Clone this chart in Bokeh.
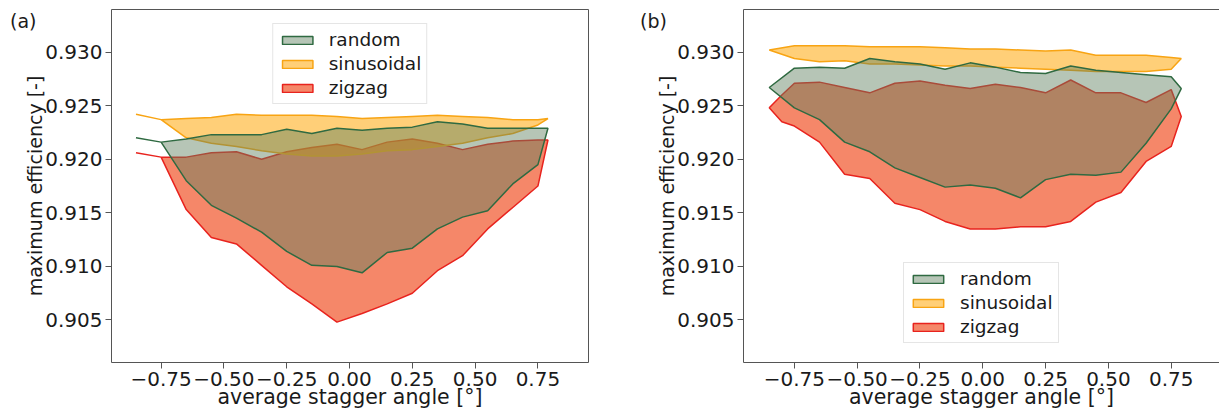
from bokeh.plotting import figure
from bokeh.models import Legend, LegendItem, FixedTicker, LinearAxis, Range1d, Div
from bokeh.layouts import row, column
from bokeh.embed import file_html
from bokeh.resources import INLINE

# ---------------- data ----------------
x_ticks = [-0.75, -0.50, -0.25, 0.00, 0.25, 0.50, 0.75]
x_tick_labels = ["\u22120.75", "\u22120.50", "\u22120.25", "0.00", "0.25", "0.50", "0.75"]
y_ticks = [0.905, 0.910, 0.915, 0.920, 0.925, 0.930]
y_tick_labels = ["0.905", "0.910", "0.915", "0.920", "0.925", "0.930"]

series_names = ["random", "sinusoidal", "zigzag"]

x_grid = [-0.85, -0.75, -0.65, -0.55, -0.45, -0.35, -0.25, -0.15, -0.05,
          0.05, 0.15, 0.25, 0.35, 0.45, 0.55, 0.65, 0.75, 0.79]
x_grid_zig_b = [-0.85, -0.80, -0.75, -0.65, -0.55, -0.45, -0.35, -0.25, -0.15, -0.05,
                0.05, 0.15, 0.25, 0.35, 0.45, 0.55, 0.65, 0.75, 0.79]

# panel (a)
random_a_upper = [0.9220, 0.9216, 0.9219, 0.9223, 0.9223, 0.9223, 0.9228, 0.9224, 0.9229,
                  0.9227, 0.9229, 0.9230, 0.9235, 0.9233, 0.9229, 0.9229, 0.9229, 0.9229]
random_a_lower = [0.9220, 0.9216, 0.9180, 0.9157, 0.9145, 0.9132, 0.9114, 0.9101, 0.9100,
                  0.9094, 0.9113, 0.9117, 0.9135, 0.9146, 0.9152, 0.9177, 0.9195, 0.9229]
sin_a_upper = [0.9242, 0.9237, 0.9238, 0.9239, 0.9242, 0.9241, 0.9241, 0.9241, 0.9240,
               0.9238, 0.9239, 0.9240, 0.9241, 0.9240, 0.9239, 0.9237, 0.9237, 0.9238]
sin_a_lower = [0.9242, 0.9237, 0.9220, 0.9215, 0.9212, 0.9208, 0.9205, 0.9203, 0.9203,
               0.9205, 0.9208, 0.9209, 0.9212, 0.9215, 0.9220, 0.9224, 0.9232, 0.9238]
zig_a_upper = [0.9206, 0.9202, 0.9202, 0.9206, 0.9207, 0.9200, 0.9207, 0.9211, 0.9214,
               0.9209, 0.9216, 0.9219, 0.9215, 0.9209, 0.9214, 0.9217, 0.9218, 0.9218]
zig_a_lower = [0.9206, 0.9202, 0.9153, 0.9127, 0.9121, 0.9101, 0.9081, 0.9065, 0.9048,
               0.9056, 0.9065, 0.9075, 0.9096, 0.9110, 0.9135, 0.9155, 0.9175, 0.9218]

# panel (b)
random_b_upper = [0.9267, 0.9285, 0.9286, 0.9285, 0.9294, 0.9291, 0.9289, 0.9284, 0.9290,
                  0.9286, 0.9281, 0.9280, 0.9287, 0.9283, 0.9281, 0.9279, 0.9277, 0.9266]
random_b_lower = [0.9267, 0.9248, 0.9237, 0.9216, 0.9207, 0.9192, 0.9183, 0.9174, 0.9176,
                  0.9173, 0.9164, 0.9181, 0.9186, 0.9185, 0.9188, 0.9215, 0.9247, 0.9266]
sin_b_upper = [0.9302, 0.9306, 0.9306, 0.9306, 0.9305, 0.9305, 0.9305, 0.9304, 0.9303,
               0.9303, 0.9302, 0.9301, 0.9302, 0.9297, 0.9297, 0.9297, 0.9295, 0.9294]
sin_b_lower = [0.9302, 0.9294, 0.9291, 0.9292, 0.9289, 0.9289, 0.9288, 0.9287, 0.9287,
               0.9286, 0.9285, 0.9284, 0.9283, 0.9282, 0.9282, 0.9282, 0.9284, 0.9294]
zig_b_upper = [0.9248, 0.9260, 0.9271, 0.9272, 0.9267, 0.9262, 0.9271, 0.9273, 0.9269, 0.9266,
               0.9270, 0.9267, 0.9262, 0.9274, 0.9262, 0.9262, 0.9253, 0.9265, 0.9240]
zig_b_lower = [0.9248, 0.9235, 0.9231, 0.9216, 0.9186, 0.9182, 0.9159, 0.9153, 0.9142, 0.9135,
               0.9135, 0.9137, 0.9137, 0.9142, 0.9160, 0.9169, 0.9198, 0.9212, 0.9240]

# ---------------- styles ----------------
FONT = "DejaVu Sans"
TXT = "#1a1a1a"
SPINE = "#555555"
styles = {
    "random": dict(fill_color="#5D7E5D", fill_alpha=0.45, line_color="#2F6A41"),
    "sinusoidal": dict(fill_color="#FFA500", fill_alpha=0.53, line_color="#F8A413"),
    "zigzag": dict(fill_color="#F25F37", fill_alpha=0.75, line_color="#E8231E"),
}

Y0, Y1 = 0.90103, 0.93398
FIG_H = 414


def make_panel(data, width, min_left, min_right, x_start, x_end, legend_loc, full_outline):
    p = figure(width=width, height=FIG_H, output_backend="svg", toolbar_location=None,
               x_range=Range1d(x_start, x_end), y_range=Range1d(Y0, Y1),
               min_border_left=min_left, min_border_right=min_right,
               min_border_top=9, min_border_bottom=52)
    p.grid.visible = False
    p.background_fill_color = "white"
    p.border_fill_color = "white"

    renderers = {}
    for name in ["zigzag", "sinusoidal", "random"]:
        xs, up, lo = data[name]
        px = list(xs) + list(xs)[::-1]
        py = list(up) + list(lo)[::-1]
        renderers[name] = p.patch(px, py, line_width=1.5, **styles[name])

    for ax in (p.xaxis[0], p.yaxis[0]):
        ax.major_label_text_font = FONT
        ax.major_label_text_font_size = "20px"
        ax.major_label_text_color = TXT
        ax.axis_label_text_font = FONT
        ax.axis_label_text_font_style = "normal"
        ax.axis_label_text_color = TXT
        ax.major_tick_out = 6
        ax.major_tick_in = 0
        ax.minor_tick_out = 0
        ax.minor_tick_in = 0
        ax.major_tick_line_color = SPINE
        ax.axis_line_color = None if full_outline else SPINE

    p.xaxis[0].axis_label_text_font_size = "20.5px"
    p.yaxis[0].axis_label_text_font_size = "19px"
    p.xaxis[0].major_label_standoff = 3
    p.xaxis[0].axis_label_standoff = -4
    p.yaxis[0].major_label_standoff = 3
    p.yaxis[0].axis_label_standoff = -4

    p.xaxis[0].ticker = FixedTicker(ticks=x_ticks)
    p.xaxis[0].major_label_overrides = {t: l for t, l in zip(x_ticks, x_tick_labels)}
    p.yaxis[0].ticker = FixedTicker(ticks=y_ticks)
    p.yaxis[0].major_label_overrides = {t: l for t, l in zip(y_ticks, y_tick_labels)}
    p.xaxis[0].axis_label = "average stagger angle [\u00b0]"
    p.yaxis[0].axis_label = "maximum efficiency [-]"

    if full_outline:
        p.outline_line_color = SPINE
        p.outline_line_width = 1
    else:
        p.outline_line_color = None
        top = LinearAxis(ticker=FixedTicker(ticks=[]), major_tick_out=0, major_tick_in=0,
                         minor_tick_out=0, minor_tick_in=0, axis_line_color=SPINE,
                         major_label_text_font_size="0px")
        p.add_layout(top, "above")

    legend = Legend(items=[LegendItem(label=n, renderers=[renderers[n]]) for n in series_names],
                    location=legend_loc, orientation="vertical",
                    label_text_font=FONT, label_text_font_size="18.5px", label_text_color=TXT,
                    glyph_width=38, glyph_height=10, label_height=18, label_standoff=13,
                    spacing=3, padding=5, margin=14,
                    border_line_color="#cccccc", border_line_width=1,
                    background_fill_color="white", background_fill_alpha=0.8)
    p.add_layout(legend, "center")
    return p


def tag_div(text, left):
    return Div(text=text, width=40, height=26, margin=(-(FIG_H - 10), 0, 0, left),
               styles={"font-family": FONT, "font-size": "19px", "color": TXT,
                       "line-height": "22px", "z-index": "10"})


data_a = {
    "random": (x_grid, random_a_upper, random_a_lower),
    "sinusoidal": (x_grid, sin_a_upper, sin_a_lower),
    "zigzag": (x_grid, zig_a_upper, zig_a_lower),
}
data_b = {
    "random": (x_grid, random_b_upper, random_b_lower),
    "sinusoidal": (x_grid, sin_b_upper, sin_b_lower),
    "zigzag": (x_grid_zig_b, zig_b_upper, zig_b_lower),
}

pa = make_panel(data_a, 608, 111, 20, -0.9475, 0.9514, "top_center", True)
pb = make_panel(data_b, 611, 135, 0, -0.9526, 0.9423, (160, 19), False)

layout = row(column(pa, tag_div("(a)", 10)), column(pb, tag_div("(b)", 32)))
open("out.html", "w").write(file_html(layout, INLINE))
